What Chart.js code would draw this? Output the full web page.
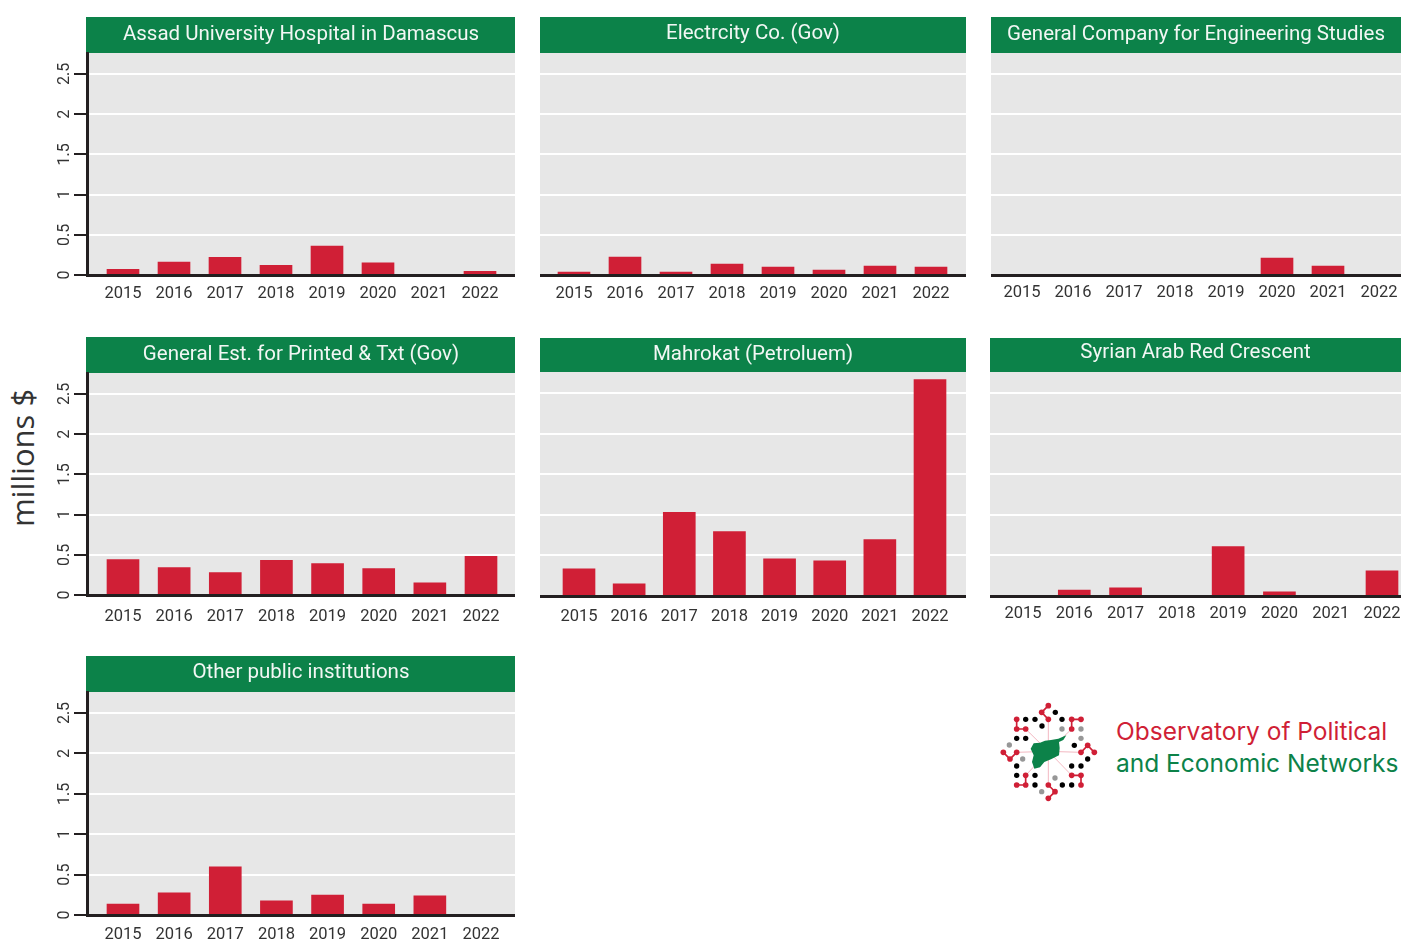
<!DOCTYPE html>
<html>
<head>
<meta charset="utf-8">
<title>Public institutions</title>
<script src="https://cdn.jsdelivr.net/npm/chart.js@4"></script>
<style>
  html, body { margin: 0; background: #fff; }
  body { position: relative; width: 1401px; height: 940px; overflow: hidden; }
  canvas { position: absolute; }
  .txt { position: absolute; white-space: nowrap; }
  #unit { left: 22px; top: 458px; font: 31px "Open Sans", sans-serif; color: #333;
          transform: translate(-50%, -50%) rotate(-90deg); }
  .org { left: 1116px; font: 24.5px Inter, sans-serif; }
  #logo { position: absolute; left: 995px; top: 698px; }
</style>
</head>
<body>
<div id="unit" class="txt">millions $</div>
<div class="txt org" style="top:716px;color:#d01f36">Observatory of Political</div>
<div class="txt org" style="top:748px;color:#0c8249">and Economic Networks</div>
<svg id="logo" width="110" height="108" viewBox="0 0 330 324"></svg>

<script>
const years = [2015, 2016, 2017, 2018, 2019, 2020, 2021, 2022];
const yTicks = [0, 0.5, 1, 1.5, 2, 2.5];

const assadHospital = [0.07, 0.16, 0.22, 0.12, 0.36, 0.15, 0, 0.046];
const electricityCo = [0.037, 0.223, 0.037, 0.136, 0.1, 0.062, 0.112, 0.1];
const engineeringStudies = [0, 0, 0, 0, 0, 0.21, 0.112, 0];
const printedTxt = [0.44, 0.34, 0.28, 0.43, 0.39, 0.33, 0.15, 0.48];
const mahrokat = [0.335, 0.149, 1.03, 0.794, 0.459, 0.434, 0.695, 2.667];
const redCrescent = [0, 0.074, 0.1, 0, 0.608, 0.05, 0, 0.31];
const otherPublic = [0.136, 0.273, 0.596, 0.174, 0.248, 0.136, 0.236, 0];

// page layout of each panel: band top/bottom, plot left/right, baseline, first/last bar centre
const panels = [
  { title: "Assad University Hospital in Damascus", data: assadHospital, top: 17, bandBottom: 53, left: 87, right: 515, base: 275.5, first: 123, last: 480, pad: 9, titleDy: 1, axis: true },
  { title: "Electrcity Co. (Gov)", data: electricityCo, top: 17, bandBottom: 53, left: 540, right: 966, base: 275.5, first: 574, last: 931, pad: 9, titleDy: 0 },
  { title: "General Company for Engineering Studies", data: engineeringStudies, top: 17, bandBottom: 53, left: 991, right: 1401, base: 275.5, first: 1022, last: 1379, pad: 8, titleDy: 1 },
  { title: "General Est. for Printed & Txt (Gov)", data: printedTxt, top: 337, bandBottom: 373, left: 87, right: 515, base: 595.5, first: 123, last: 481, pad: 12, titleDy: 1, axis: true },
  { title: "Mahrokat (Petroluem)", data: mahrokat, top: 338, bandBottom: 372, left: 540, right: 966, base: 596, first: 579, last: 930, pad: 11, titleDy: 1 },
  { title: "Syrian Arab Red Crescent", data: redCrescent, top: 338, bandBottom: 372, left: 990, right: 1401, base: 596, first: 1023, last: 1382, pad: 8, titleDy: -1 },
  { title: "Other public institutions", data: otherPublic, top: 656, bandBottom: 692, left: 87, right: 515, base: 915, first: 123, last: 481, pad: 10, titleDy: 0, axis: true },
];

const GREEN = "#0c8249", RED = "#d01f36", GREY = "#e7e7e7", DARK = "#231f20";
const FONT = "Roboto, sans-serif";
const AXIS_W = 47;

// green title band and grey plot background
const panelBack = {
  id: "panelBack",
  beforeDraw(chart) {
    const { ctx, chartArea: a } = chart;
    ctx.save();
    ctx.fillStyle = GREY;
    ctx.fillRect(a.left, a.top, a.right - a.left, a.bottom - a.top);
    ctx.fillStyle = GREEN;
    ctx.fillRect(a.left - 1, 0, a.right - a.left + 1, a.top);
    ctx.restore();
  },
};

panels.forEach((p) => {
  const canvas = document.createElement("canvas");
  const axisW = p.axis ? AXIS_W : 0;
  const width = p.right - p.left + axisW;
  const height = Math.min(p.base + 32, 940) - p.top;
  canvas.width = width;
  canvas.height = height;
  canvas.style.left = p.left - axisW + "px";
  canvas.style.top = p.top + "px";
  document.body.appendChild(canvas);

  const step = (p.last - p.first) / 7;
  const bandH = p.bandBottom - p.top;

  new Chart(canvas.getContext("2d"), {
    type: "bar",
    data: {
      datasets: [{
        data: p.data.map((v, i) => ({ x: years[i], y: v })),
        backgroundColor: RED,
        barThickness: 32,
      }],
    },
    plugins: [panelBack],
    options: {
      responsive: false,
      animation: false,
      layout: { padding: 0, autoPadding: false },
      plugins: {
        legend: { display: false },
        tooltip: { enabled: false },
        title: {
          display: true,
          text: p.title,
          color: "#f2f7f4",
          fullSize: false,
          font: { family: FONT, size: 20.5, weight: "normal", lineHeight: 1.2 },
          padding: { top: (bandH - 24.6) / 2 - 1 + p.titleDy, bottom: (bandH - 24.6) / 2 + 1 - p.titleDy },
        },
      },
      scales: {
        x: {
          type: "linear",
          offset: false,
          min: 2015 - (p.first - p.left) / step,
          max: 2022 + (p.right - p.last) / step,
          afterBuildTicks: (s) => { s.ticks = years.map((v) => ({ value: v })); },
          // labels stay inside the canvas, so no side padding is needed
          afterFit: (s) => {
            s.height = height - (p.base - p.top);
            s.paddingLeft = 0;
            s.paddingRight = 0;
          },
          grid: { drawOnChartArea: false, drawTicks: false },
          border: { color: DARK, width: 3, z: 1 },
          ticks: {
            padding: p.pad,
            autoSkip: false,
            maxRotation: 0,
            color: "#333",
            font: { family: FONT, size: 16.5 },
            callback: (v) => String(v),
          },
        },
        y: {
          min: 0,
          max: 2.76,
          afterBuildTicks: (s) => { s.ticks = yTicks.map((v) => ({ value: v })); },
          afterFit: (s) => { s.width = axisW; },
          grid: {
            color: "#fff",
            lineWidth: 2,
            drawTicks: !!p.axis,
            tickColor: DARK,
            tickWidth: 2,
            tickLength: 13,
          },
          border: { display: !!p.axis, color: DARK, width: 3, z: 1 },
          ticks: {
            display: !!p.axis,
            padding: -2,
            minRotation: 90,
            maxRotation: 90,
            crossAlign: "center",
            color: "#333",
            font: { family: FONT, size: 16 },
            callback: (v) => String(v),
          },
        },
      },
    },
  });
});

// logo, drawn as plain svg
const hub = [160, 160];
const spokes = [[160, 64], [230, 93], [258, 163], [230, 232], [160, 261], [92, 232], [65, 163], [92, 93]];
const links = [
  [[160, 23], [140, 43], [160, 64]],
  [[258, 64], [230, 64], [230, 93]],
  [[258, 163], [278, 142], [298, 163]],
  [[230, 232], [258, 232], [258, 261]],
  [[160, 261], [180, 281], [160, 301]],
  [[92, 232], [92, 261], [65, 261]],
  [[25, 163], [45, 183], [65, 163]],
  [[65, 64], [65, 93], [92, 93]],
];
const blackDots = [[181, 43], [201, 64], [238, 142], [278, 183], [230, 204], [258, 204], [202, 261], [230, 261], [65, 232], [120, 232], [120, 261], [92, 64], [120, 64], [141, 84], [65, 121], [92, 121], [65, 204]];
const greyDots = [[201, 93], [258, 93], [258, 121], [180, 240], [140, 281], [43, 141], [83, 183]];
const mapShape = "107,152 116,136 135,134 150,128 168,126 190,122 214,112 205,126 192,132 194,150 192,172 168,184 148,192 135,208 118,212 111,192 116,172";

let logo = "";
spokes.forEach((s) => { logo += `<line x1="${hub[0]}" y1="${hub[1]}" x2="${s[0]}" y2="${s[1]}" stroke="#f3b9c2" stroke-width="3"/>`; });
links.forEach((l) => {
  logo += `<polyline points="${l.join(" ")}" fill="none" stroke="${RED}" stroke-width="5"/>`;
  l.forEach((c) => { logo += `<circle cx="${c[0]}" cy="${c[1]}" r="8.5" fill="${RED}"/>`; });
});
blackDots.forEach((c) => { logo += `<circle cx="${c[0]}" cy="${c[1]}" r="8" fill="#000"/>`; });
greyDots.forEach((c) => { logo += `<circle cx="${c[0]}" cy="${c[1]}" r="8" fill="#979797"/>`; });
logo += `<polygon points="${mapShape}" fill="${GREEN}"/>`;
document.getElementById("logo").innerHTML = logo;
</script>
</body>
</html>
